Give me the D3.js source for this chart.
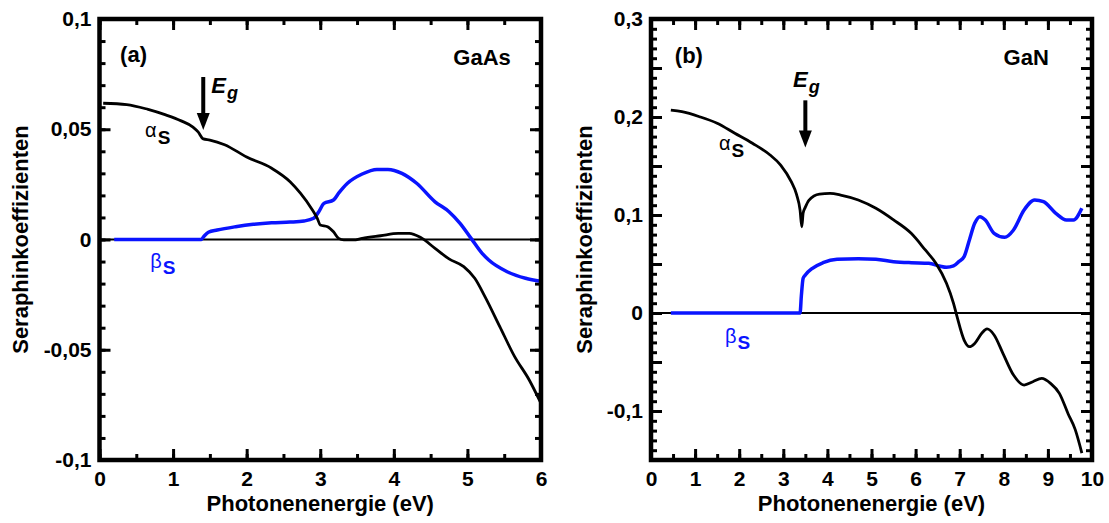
<!DOCTYPE html>
<html>
<head>
<meta charset="utf-8">
<script src="https://cdn.jsdelivr.net/npm/d3@7/dist/d3.min.js"></script>
<style>
body { margin: 0; background: #fff; }
text { font-family: "Liberation Sans", Arial, sans-serif; }
</style>
</head>
<body>
<svg id="chart" width="1109" height="523"></svg>
<script>
// ---- (a) GaAs ----
var gaasAlphaE = [0.05, 0.37, 0.66, 0.90, 1.11, 1.27, 1.34, 1.41, 1.50, 1.70, 2.00, 2.34, 2.59, 2.73, 2.88, 2.96, 3.00, 3.10, 3.18, 3.25, 3.32, 3.45, 3.57, 3.82, 4.06, 4.21, 4.36, 4.56, 4.75, 4.95, 5.10, 5.24, 5.44, 5.64, 5.84, 6.0];
var gaasAlpha  = [0.0618, 0.0612, 0.0590, 0.0565, 0.0538, 0.0510, 0.0488, 0.0456, 0.0451, 0.0430, 0.0374, 0.0323, 0.0262, 0.0210, 0.0141, 0.0096, 0.0066, 0.0058, 0.0035, 0.0005, -0.0002, -0.0002, 0.0005, 0.0017, 0.0028, 0.0028, 0.0010, -0.0040, -0.0088, -0.0123, -0.0176, -0.0260, -0.0395, -0.0530, -0.0637, -0.0743];
var gaasBetaE  = [0.2, 1.38, 1.42, 1.48, 1.60, 1.85, 2.09, 2.34, 2.59, 2.78, 2.91, 2.98, 3.05, 3.18, 3.25, 3.37, 3.57, 3.77, 3.92, 4.11, 4.31, 4.56, 4.75, 4.90, 5.05, 5.20, 5.29, 5.54, 5.79, 6.0];
var gaasBeta   = [0, 0, 0.0015, 0.0033, 0.0043, 0.0058, 0.0069, 0.0076, 0.0079, 0.0084, 0.0096, 0.0126, 0.0164, 0.0179, 0.0210, 0.0255, 0.0297, 0.0318, 0.0318, 0.0300, 0.0255, 0.0171, 0.0126, 0.0073, 0.0005, -0.0063, -0.0093, -0.0146, -0.0176, -0.0190];

// ---- (b) GaN ----
var ganAlphaE = [0.45, 0.70, 1.10, 1.50, 1.90, 2.30, 2.70, 2.94, 3.18, 3.30, 3.38, 3.42, 3.45, 3.50, 3.58, 3.82, 4.06, 4.30, 4.70, 5.10, 5.50, 5.90, 6.22, 6.46, 6.70, 6.86, 6.94, 7.10, 7.22, 7.34, 7.50, 7.62, 7.78, 7.98, 8.22, 8.46, 8.66, 8.86, 9.06, 9.26, 9.46, 9.62, 9.77];
var ganAlpha  = [0.207, 0.2054, 0.2003, 0.1936, 0.1834, 0.1732, 0.1612, 0.151, 0.134, 0.121, 0.105, 0.088, 0.102, 0.108, 0.115, 0.1214, 0.122, 0.1204, 0.1153, 0.1068, 0.095, 0.0813, 0.0643, 0.0507, 0.0303, 0.0099, -0.0038, -0.0276, -0.0344, -0.031, -0.0207, -0.0163, -0.0224, -0.0411, -0.0633, -0.0735, -0.0701, -0.0667, -0.0718, -0.082, -0.103, -0.119, -0.143];
var ganBetaE  = [0.45, 3.38, 3.41, 3.45, 3.50, 3.66, 3.90, 4.22, 4.70, 5.10, 5.50, 5.90, 6.30, 6.54, 6.70, 6.86, 6.98, 7.10, 7.22, 7.34, 7.46, 7.58, 7.78, 8.02, 8.22, 8.46, 8.70, 8.90, 9.18, 9.42, 9.58, 9.77];
var ganBeta   = [0, 0, 0.018, 0.0354, 0.0388, 0.0456, 0.0513, 0.0548, 0.0554, 0.0548, 0.0524, 0.0513, 0.0507, 0.048, 0.0466, 0.048, 0.0524, 0.0575, 0.0745, 0.0915, 0.0983, 0.0949, 0.0813, 0.0772, 0.0847, 0.105, 0.1153, 0.1136, 0.1017, 0.0949, 0.0949, 0.1068];

// tick values
var gaasXTicks = [0, 1, 2, 3, 4, 5, 6];
var gaasYTicks = [-0.1, -0.05, 0, 0.05, 0.1];
var ganXTicks = [0, 1, 2, 3, 4, 5, 6, 7, 8, 9, 10];
var ganYTicks = [-0.1, 0, 0.1, 0.2, 0.3];

var svg = d3.select("#chart");
var blue = "#0a14ff";

function fmt(v) { return String(v).replace(".", ","); }

function zip(xs, ys) { return xs.map(function(x, i) { return [x, ys[i]]; }); }

function drawPanel(p) {
    var x = d3.scaleLinear().domain(p.xDomain).range(p.xRange);
    var y = d3.scaleLinear().domain(p.yDomain).range(p.yRange);
    var x0 = p.xRange[0], x1 = p.xRange[1], yTop = p.yRange[1], yBot = p.yRange[0];

    var g = svg.append("g");

    g.append("clipPath").attr("id", "clip-" + p.id)
        .append("rect").attr("x", x0).attr("y", yTop).attr("width", x1 - x0).attr("height", yBot - yTop);

    // minor ticks (all four sides, inward)
    var xMinor = d3.range(p.xDomain[0] * 2, p.xDomain[1] * 2 + 1).map(function(i) { return i / 2; });
    var yMinor = d3.range(Math.round(p.yDomain[0] * 100), Math.round(p.yDomain[1] * 100) + 1).map(function(i) { return i / 100; });
    var yMajorAll = d3.range(Math.round(p.yDomain[0] * 20), Math.round(p.yDomain[1] * 20) + 1).map(function(i) { return i / 20; });

    function tickAxis(axis, tx, ty, vals, size) {
        var a = g.append("g").attr("transform", "translate(" + tx + "," + ty + ")")
            .call(axis.tickValues(vals).tickSizeInner(-size).tickSizeOuter(0).tickFormat(""));
        a.select(".domain").remove();
        a.selectAll("line").attr("stroke", "#000").attr("stroke-width", 3);
    }
    tickAxis(d3.axisBottom(x), 0, yBot, xMinor, 6);
    tickAxis(d3.axisTop(x), 0, yTop, xMinor, 6);
    tickAxis(d3.axisBottom(x), 0, yBot, p.xTicks, 11);
    tickAxis(d3.axisTop(x), 0, yTop, p.xTicks, 11);
    tickAxis(d3.axisLeft(y), x0, 0, yMinor, 6);
    tickAxis(d3.axisRight(y), x1, 0, yMinor, 6);
    tickAxis(d3.axisLeft(y), x0, 0, yMajorAll, 11);
    tickAxis(d3.axisRight(y), x1, 0, yMajorAll, 11);

    // tick labels
    var xl = g.append("g").attr("transform", "translate(0," + yBot + ")")
        .call(d3.axisBottom(x).tickValues(p.xTicks).tickSize(0).tickPadding(11).tickFormat(fmt));
    xl.select(".domain").remove();
    var yl = g.append("g").attr("transform", "translate(" + x0 + ",0)")
        .call(d3.axisLeft(y).tickValues(p.yTicks).tickSize(0).tickPadding(8).tickFormat(fmt));
    yl.select(".domain").remove();
    g.selectAll(".tick text").attr("font-family", "Liberation Sans, Arial, sans-serif")
        .attr("font-size", 21).attr("font-weight", "bold").attr("fill", "#000");

    // zero line
    g.append("line").attr("x1", x0).attr("x2", x1).attr("y1", y(0)).attr("y2", y(0))
        .attr("stroke", "#000").attr("stroke-width", 2);

    var line = d3.line().x(function(d) { return x(d[0]); }).y(function(d) { return y(d[1]); })
        .curve(d3.curveMonotoneX);

    var curves = g.append("g").attr("clip-path", "url(#clip-" + p.id + ")");
    curves.append("path").datum(zip(p.betaE, p.beta)).attr("d", line)
        .attr("fill", "none").attr("stroke", blue).attr("stroke-width", 3.5).attr("stroke-linejoin", "round");
    curves.append("path").datum(zip(p.alphaE, p.alpha)).attr("d", line)
        .attr("fill", "none").attr("stroke", "#000").attr("stroke-width", 2.8).attr("stroke-linejoin", "round");

    // frame
    g.append("rect").attr("x", x0).attr("y", yTop).attr("width", x1 - x0).attr("height", yBot - yTop)
        .attr("fill", "none").attr("stroke", "#000").attr("stroke-width", 4.5);

    // panel label and material
    g.append("text").attr("x", x(p.tag[0])).attr("y", y(p.tag[1]))
        .attr("font-size", 22).attr("font-weight", "bold").text(p.tag[2]);
    g.append("text").attr("x", x(p.mat[0])).attr("y", y(p.mat[1])).attr("text-anchor", "end")
        .attr("font-size", 22).attr("font-weight", "bold").text(p.mat[2]);

    // alpha_s / beta_s labels
    var ta = g.append("text").attr("x", x(p.alphaLbl[0])).attr("y", y(p.alphaLbl[1])).attr("fill", "#000");
    ta.append("tspan").attr("font-size", 20).text("\u03b1");
    ta.append("tspan").attr("font-size", 19).attr("font-weight", "bold").attr("dy", 7).attr("dx", 1).text("S");
    var tb = g.append("text").attr("x", x(p.betaLbl[0])).attr("y", y(p.betaLbl[1])).attr("fill", blue);
    tb.append("tspan").attr("font-size", 20).text("\u03b2");
    tb.append("tspan").attr("font-size", 19).attr("font-weight", "bold").attr("dy", 6).attr("dx", 1).text("S");

    // band gap arrow
    var ax = x(p.arrow[0]), aTop = y(p.arrow[1]), aTip = y(p.arrow[2]);
    g.append("line").attr("x1", ax).attr("x2", ax).attr("y1", aTop).attr("y2", aTip - 12)
        .attr("stroke", "#000").attr("stroke-width", 4);
    g.append("path").attr("d", "M" + (ax - 6.5) + "," + (aTip - 17) + "L" + (ax + 6.5) + "," + (aTip - 17) + "L" + ax + "," + aTip + "Z")
        .attr("fill", "#000");
    var te = g.append("text").attr("x", x(p.egLbl[0])).attr("y", y(p.egLbl[1]))
        .attr("font-weight", "bold").attr("font-style", "italic");
    te.append("tspan").attr("font-size", 22).text("E");
    te.append("tspan").attr("font-size", 18).attr("dy", 6).attr("dx", 1).text("g");

    // axis titles
    g.append("text").attr("x", (x0 + x1) / 2).attr("y", 511).attr("text-anchor", "middle")
        .attr("font-size", 22).attr("font-weight", "bold").text("Photonenenergie (eV)");
    g.append("text").attr("transform", "translate(" + p.yTitleX + "," + ((yTop + yBot) / 2) + ") rotate(-90)")
        .attr("text-anchor", "middle").attr("font-size", 22).attr("font-weight", "bold")
        .text("Seraphinkoeffizienten");
}

drawPanel({
    id: "a",
    xDomain: [0, 6], xRange: [99.5, 541],
    yDomain: [-0.1, 0.1], yRange: [460, 19],
    xTicks: gaasXTicks, yTicks: gaasYTicks,
    alphaE: gaasAlphaE, alpha: gaasAlpha, betaE: gaasBetaE, beta: gaasBeta,
    tag: [0.28, 0.0805, "(a)"], mat: [5.59, 0.079, "GaAs"],
    alphaLbl: [0.62, 0.0465], betaLbl: [0.69, -0.0129],
    arrow: [1.41, 0.0737, 0.0497], egLbl: [1.52, 0.0664],
    yTitleX: 28
});

drawPanel({
    id: "b",
    xDomain: [0, 10], xRange: [651, 1092],
    yDomain: [-0.15, 0.3], yRange: [460, 19],
    xTicks: ganXTicks, yTicks: ganYTicks,
    alphaE: ganAlphaE, alpha: ganAlpha, betaE: ganBetaE, beta: ganBeta,
    tag: [0.54, 0.255, "(b)"], mat: [9.02, 0.253, "GaN"],
    alphaLbl: [1.54, 0.166], betaLbl: [1.68, -0.0306],
    arrow: [3.50, 0.217, 0.169], egLbl: [3.22, 0.2306],
    yTitleX: 592
});
</script>
</body>
</html>
